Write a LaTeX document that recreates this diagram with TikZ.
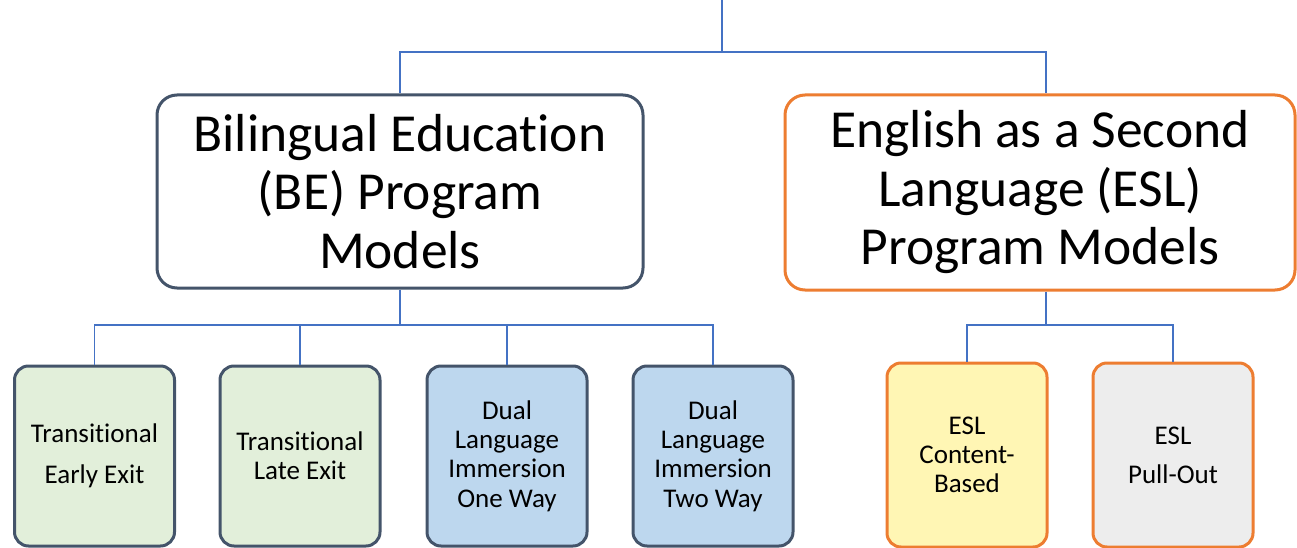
\documentclass[tikz,border=0pt]{standalone}
\usepackage{fontspec}
\setmainfont{Carlito}[Ligatures=NoCommon]
\begin{document}
\begin{tikzpicture}[x=1pt,y=-1pt,
  conn/.style={draw=connblue, line width=1.6pt},
  bigbox/.style={rectangle, rounded corners=20pt, line width=3pt, fill=white, inner sep=0pt, align=center,
     font=\fontsize{53.5}{58.5}\selectfont},
  smallbox/.style={rectangle, rounded corners=14pt, line width=3pt, inner sep=0pt, align=center,
     minimum width=160pt, minimum height=180pt, font=\fontsize{27}{29.3}\selectfont},
  bebox/.style={draw=slate},
  eslbox/.style={draw=orng}]
\definecolor{connblue}{HTML}{4472C4}
\definecolor{slate}{HTML}{44546A}
\definecolor{orng}{HTML}{ED7D31}
\definecolor{lgreen}{HTML}{E2EFDA}
\definecolor{lblue}{HTML}{BDD7EE}
\definecolor{lyellow}{HTML}{FFF6B4}
\definecolor{lgray}{HTML}{EDEDED}
\useasboundingbox (0,0) rectangle (1297,548);

\node[bigbox, bebox, minimum width=486pt, minimum height=193pt] (be) at (400,191.5)
  {Bilingual Education\\(BE) Program\\Models};
\node[bigbox, eslbox, minimum width=510pt, minimum height=195pt] (esl) at (1040,192.5)
  {English as a Second\\Language (ESL)\\Program Models};

\node[smallbox, bebox, fill=lgreen, font=\fontsize{27}{41}\selectfont] (t1) at (94.5,456) {Transitional\\Early Exit};
\node[smallbox, bebox, fill=lgreen] (t2) at (300,456) {Transitional\\Late Exit};
\node[smallbox, bebox, fill=lblue] (d1) at (507,456) {Dual\\Language\\Immersion\\One Way};
\node[smallbox, bebox, fill=lblue] (d2) at (713,456) {Dual\\Language\\Immersion\\Two Way};
\node[smallbox, eslbox, fill=lyellow, minimum height=184pt] (e1) at (967,455) {ESL\\Content-\\Based};
\node[smallbox, eslbox, fill=lgray, minimum height=184pt, font=\fontsize{27}{39}\selectfont] (e2) at (1173,455) {ESL\\Pull-Out};

\coordinate (top) at (722,0);
\coordinate (j0) at (722,52);
\coordinate (j1) at (400,325);
\coordinate (j2) at (1046,325);

\draw[conn] (top) -- (j0);
\draw[conn] (j0) -| (be.north);
\draw[conn] (j0) -| (esl.north -| j2);
\draw[conn] (be.south) -- (j1);
\draw[conn] (esl.south -| j2) -- (j2);
\draw[conn] (j1) -| (t1.north);
\draw[conn] (j1) -| (t2.north);
\draw[conn] (j1) -| (d1.north);
\draw[conn] (j1) -| (d2.north);
\draw[conn] (j2) -| (e1.north);
\draw[conn] (j2) -| (e2.north);
\end{tikzpicture}
\end{document}
